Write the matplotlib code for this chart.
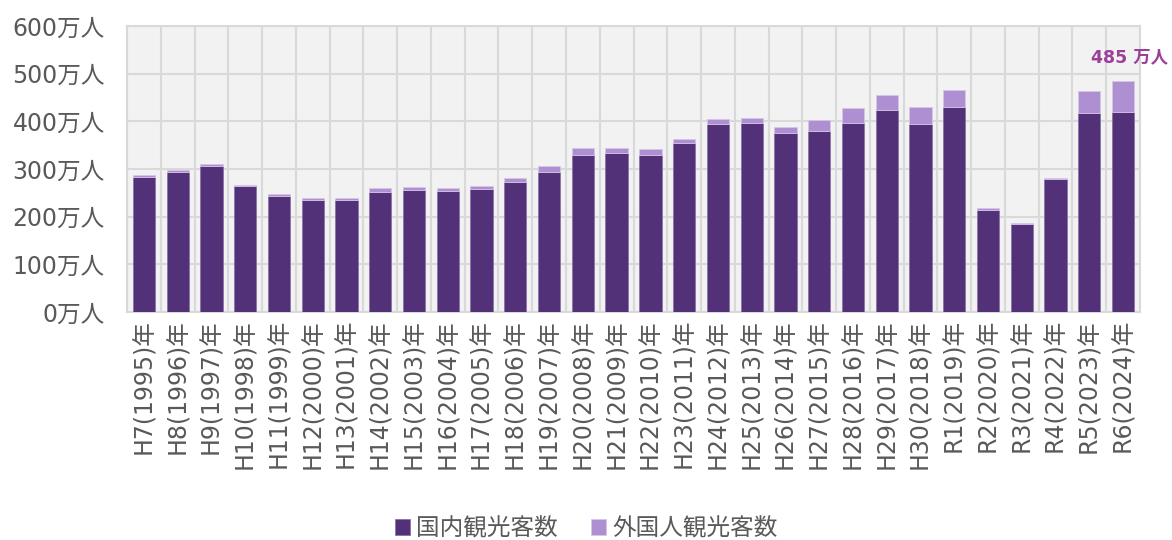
import matplotlib.pyplot as plt
import numpy as np

plt.rcParams['font.family'] = ['DejaVu Sans', 'Noto Sans CJK JP']

# 年ラベル
years = ["H7(1995)年", "H8(1996)年", "H9(1997)年", "H10(1998)年", "H11(1999)年",
         "H12(2000)年", "H13(2001)年", "H14(2002)年", "H15(2003)年", "H16(2004)年",
         "H17(2005)年", "H18(2006)年", "H19(2007)年", "H20(2008)年", "H21(2009)年",
         "H22(2010)年", "H23(2011)年", "H24(2012)年", "H25(2013)年", "H26(2014)年",
         "H27(2015)年", "H28(2016)年", "H29(2017)年", "H30(2018)年", "R1(2019)年",
         "R2(2020)年", "R3(2021)年", "R4(2022)年", "R5(2023)年", "R6(2024)年"]

# 国内観光客数 (万人)
domestic = [284, 294, 307, 264, 244, 235, 235, 252, 255, 253,
            258, 272, 293, 329, 333, 329, 354, 394, 396, 375,
            379, 397, 423, 395, 429, 215, 185, 279, 418, 420]

# 外国人観光客数 (万人)
foreign = [4, 3, 4, 3, 3, 5, 5, 8, 8, 7,
           7, 10, 14, 14, 12, 12, 8, 10, 12, 14,
           23, 30, 33, 34, 37, 4, 1, 3, 46, 65]

dark = "#523178"
light = "#AE8FD2"
text_color = "#595959"

fig = plt.figure(figsize=(11.72, 5.40), dpi=100)
ax = fig.add_axes([0.1084, 0.4222, 0.8643, 0.5297])
ax.set_facecolor("#F2F2F2")

x = np.arange(len(years))
ax.bar(x, domestic, width=0.66, color=dark, edgecolor="#8B74A8", linewidth=0.6,
       label="国内観光客数", zorder=3)
ax.bar(x, foreign, width=0.66, bottom=domestic, color=light, edgecolor="#D5C6E6",
       linewidth=0.6, label="外国人観光客数", zorder=3)

# 合計ラベル (最終年)
total_last = domestic[-1] + foreign[-1]
ax.text(x[-1] + 0.2, total_last + 50, f"{total_last} 万人", ha="center", va="center",
        fontsize=12.5, fontweight="bold", color="#9B3F9B", clip_on=False)

ax.set_xlim(-0.5, len(years) - 0.5)
ax.set_ylim(0, 600)
ax.set_yticks(range(0, 601, 100))
ax.set_yticklabels([f"{v}万人" for v in range(0, 601, 100)])
ax.set_xticks(x)
ax.set_xticklabels(years, rotation=90, va="top")

# グリッド
ax.set_xticks(np.arange(-0.5, len(years), 1), minor=True)
ax.grid(axis="y", which="major", color="#D9D9D9", linewidth=1.5, zorder=0)
ax.grid(axis="x", which="minor", color="#D9D9D9", linewidth=1.5, zorder=0)
ax.grid(axis="x", which="major", visible=False)

ax.tick_params(axis="both", which="both", length=0, colors=text_color, labelsize=17)
ax.tick_params(axis="y", pad=16)
ax.tick_params(axis="x", pad=5)
for s in ax.spines.values():
    s.set_color("#D9D9D9")
    s.set_linewidth(1.5)

fig.legend(loc="lower center", ncol=2, frameon=False, fontsize=17,
           bbox_to_anchor=(0.5, -0.04), handlelength=0.65, handleheight=0.65,
           handletextpad=0.25, columnspacing=1.4, labelcolor=text_color)

fig.savefig("out.png", dpi=100)
